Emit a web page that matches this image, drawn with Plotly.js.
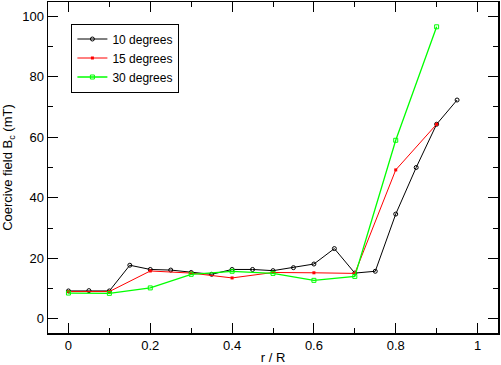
<!DOCTYPE html>
<html><head><meta charset="utf-8">
<script src="https://cdn.plot.ly/plotly-3.0.1.min.js"></script>
<style>html,body{margin:0;padding:0;background:#fff}#plot{width:501px;height:365px}</style>
</head><body><div id="plot"></div>
<script>
const x10 = [0,0.05,0.1,0.15,0.2,0.25,0.3,0.35,0.4,0.45,0.5,0.55,0.6,0.65,0.7,0.75,0.8,0.85,0.9,0.95];
const y10 = [9.2,9.3,9.2,17.7,16.3,16.1,15.3,14.7,16.3,16.3,15.9,16.9,18.1,23.2,15.1,15.7,34.6,50,64.3,72.3];
const x15 = [0,0.1,0.2,0.3,0.4,0.5,0.6,0.7,0.8,0.9];
const y15 = [9.0,9.0,15.8,15.1,13.5,15.3,15.2,15.0,49.2,64.3];
const x30 = [0,0.1,0.2,0.3,0.4,0.5,0.6,0.7,0.8,0.9];
const y30 = [8.5,8.4,10.2,14.7,15.7,15.0,12.7,14.0,59.0,96.5];
const names = ['10 degrees','15 degrees','30 degrees'];

const traces = [
  {x:x10,y:y10,name:names[0],mode:'lines+markers',line:{color:'#000000',width:1},marker:{symbol:'circle-open',size:4,color:'#000000',line:{width:1}}},
  {x:x15,y:y15,name:names[1],mode:'lines+markers',line:{color:'#ff0000',width:1},marker:{symbol:'square',size:3,color:'#ff0000'}},
  {x:x30,y:y30,name:names[2],mode:'lines+markers',line:{color:'#00ff00',width:1.3},marker:{symbol:'square-open',size:4,color:'#00ff00',line:{width:1}}}
];
const axisCommon = {showline:true,linecolor:'#000',linewidth:1.5,mirror:'allticks',ticks:'inside',ticklen:10,tickwidth:1,tickcolor:'#000',showgrid:false,zeroline:false,
  tickfont:{family:'Liberation Sans, Arial, sans-serif',size:13,color:'#000'}};
const layout = {
  width:501,height:365,margin:{l:48,r:3,t:2,b:32},
  paper_bgcolor:'#fff',plot_bgcolor:'#fff',
  font:{family:'Liberation Sans, Arial, sans-serif',size:13,color:'#000'},
  xaxis:Object.assign({},axisCommon,{range:[-0.05,1.05],dtick:0.2,tick0:0,
    minor:{dtick:0.1,ticklen:5,ticks:'inside',tickcolor:'#000',showgrid:false},
    title:{text:'r / R',font:{size:13},standoff:4}}),
  yaxis:Object.assign({},axisCommon,{range:[-4.7,104.7],dtick:20,tick0:0,
    minor:{dtick:10,ticklen:5,ticks:'inside',tickcolor:'#000',showgrid:false},
    title:{text:'Coercive field B<sub>c</sub> (mT)',font:{size:13},standoff:6}}),
  showlegend:true,
  legend:{x:0.052,y:0.935,xanchor:'left',yanchor:'top',bordercolor:'#000',borderwidth:1,bgcolor:'#fff',
    font:{size:12},itemwidth:30,tracegroupgap:0}
};
Plotly.newPlot('plot',traces,layout,{displayModeBar:false,staticPlot:true});
</script></body></html>
